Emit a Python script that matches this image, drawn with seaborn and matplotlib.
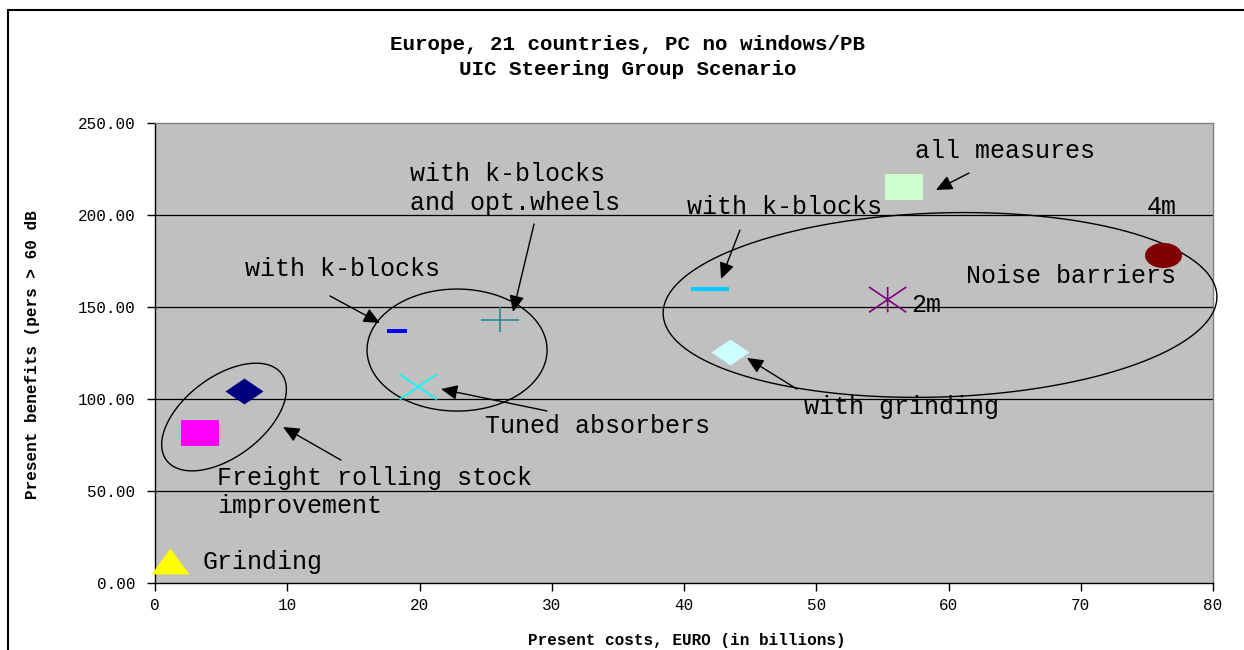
import numpy as np
import pandas as pd
import matplotlib
matplotlib.use("Agg")
import matplotlib.pyplot as plt
import seaborn as sns
from matplotlib.path import Path
from matplotlib.lines import Line2D

# ---------------- data ----------------
measures = ["Grinding", "Freight rolling stock improvement", "Freight + k-blocks",
            "Tuned absorbers with k-blocks", "Tuned absorbers",
            "Tuned absorbers with k-blocks and opt.wheels",
            "Noise barriers with k-blocks", "Noise barriers with grinding",
            "Noise barriers 2m", "All measures", "Noise barriers 4m"]
costs = [1.1, 3.4, 6.7, 18.3, 19.9, 26.1, 42.0, 43.5, 55.4, 56.6, 76.2]
benefits = [12.2, 81.6, 104.1, 137.2, 106.6, 143.2, 160.0, 125.3, 154.0, 215.3, 178.4]
colors = ["#FFFF00", "#FF00FF", "#000080", "#0000FF", "#00FFFF", "#2A8A8A",
          "#00CCFF", "#CCFFFF", "#800080", "#CCFFCC", "#800000"]
shapes = ["tri", "rect", "diamond", "dash_s", "x", "plus", "dash_l",
          "diamond", "star", "rect", "ellipse"]

x_ticks = [0, 10, 20, 30, 40, 50, 60, 70, 80]
y_ticks = [0, 50, 100, 150, 200, 250]

title = "Europe, 21 countries, PC no windows/PB\nUIC Steering Group Scenario"
x_label = "Present costs, EURO (in billions)"
y_label = "Present benefits (pers > 60 dB"

# annotation labels: text, left x, centre y (data units)
label_texts = ["Grinding", "Freight rolling stock\nimprovement", "with k-blocks",
               "with k-blocks\nand opt.wheels", "Tuned absorbers", "with k-blocks",
               "all measures", "4m", "Noise barriers", "2m", "with grinding"]
label_x = [3.63, 4.69, 6.81, 19.28, 24.95, 40.23, 57.47, 75.0, 61.32, 57.16, 49.07]
label_y = [11.4, 49.5, 170.7, 214.4, 85.3, 204.3, 234.8, 204.3, 166.8, 151.1, 95.7]

# arrows: tail -> head (data units)
arrow_tail_x = [14.06, 13.23, 28.66, 29.64, 44.23, 61.55, 48.54]
arrow_tail_y = [66.8, 156.0, 195.1, 93.5, 191.8, 222.8, 105.4]
arrow_head_x = [9.68, 17.01, 27.07, 21.63, 42.80, 59.05, 44.76]
arrow_head_y = [84.8, 141.3, 147.3, 105.4, 165.2, 213.6, 122.3]

# group ellipses: centre (data), semi-axes (pixels), angle (deg)
ell_cx = [5.22, 22.84, 59.36]
ell_cy = [90.2, 126.6, 151.1]
ell_a_px = [72, 90, 277]
ell_b_px = [40, 61, 92]
ell_ang = [37, 0, 1.9]

# ---------------- markers ----------------
def poly(verts):
    verts = list(verts) + [verts[0]]
    codes = [Path.MOVETO] + [Path.LINETO] * (len(verts) - 2) + [Path.CLOSEPOLY]
    return Path(verts, codes)

def segs(lines):
    v, c = [], []
    for (a, b) in lines:
        v += [a, b]
        c += [Path.MOVETO, Path.LINETO]
    return Path(v, c)

r = 0.68
uc = Path.unit_circle()
marker_paths = {
    "tri": poly([(-1, -r), (1, -r), (0, r)]),
    "rect": poly([(-1, -r), (1, -r), (1, r), (-1, r)]),
    "diamond": poly([(1, 0), (0, r), (-1, 0), (0, -r)]),
    "dash_s": poly([(-1, -0.2), (1, -0.2), (1, 0.2), (-1, 0.2)]),
    "dash_l": poly([(-1, -0.1), (1, -0.1), (1, 0.1), (-1, 0.1)]),
    "x": segs([((-1, -r), (1, r)), ((-1, r), (1, -r))]),
    "plus": segs([((-1, 0), (1, 0)), ((0, -r), (0, r))]),
    "star": segs([((-1, -r), (1, r)), ((-1, r), (1, -r)), ((0, -r), (0, r))]),
    "ellipse": Path(uc.vertices * np.array([1, r]), uc.codes),
}
marker_size = {"tri": 750, "rect": 710, "diamond": 750, "dash_s": 210,
               "dash_l": 740, "x": 720, "plus": 750, "star": 720, "ellipse": 710}
line_shapes = {"x", "plus", "star"}

# ---------------- figure ----------------
sns.set_style("white")
plt.rcParams["font.family"] = ["Liberation Mono", "DejaVu Sans"]
plt.rcParams["text.color"] = "black"
plt.rcParams["axes.labelcolor"] = "black"
plt.rcParams["xtick.color"] = "black"
plt.rcParams["ytick.color"] = "black"

fig = plt.figure(figsize=(12.44, 6.5), dpi=100)
ax = fig.add_axes([155 / 1244, 1 - 583 / 650, 1058 / 1244, 460 / 650])
ax.set_facecolor("#C0C0C0")
ax.set_xlim(0, 80)
ax.set_ylim(0, 250)

df = pd.DataFrame({"measure": measures, "cost": costs, "benefit": benefits,
                   "color": colors, "shape": shapes})

for _, row in df.iterrows():
    shp = row["shape"]
    sub = df[df["measure"] == row["measure"]]
    if shp in line_shapes:
        sns.scatterplot(data=sub, x="cost", y="benefit", ax=ax,
                        marker=marker_paths[shp], s=marker_size[shp],
                        color=row["color"], facecolor="none",
                        edgecolor=row["color"], linewidth=1.2,
                        clip_on=False, zorder=4, legend=False)
    else:
        sns.scatterplot(data=sub, x="cost", y="benefit", ax=ax,
                        marker=marker_paths[shp], s=marker_size[shp],
                        color=row["color"], linewidth=0,
                        clip_on=False, zorder=4, legend=False)

# ellipses (shape defined in pixels, centred in data units)
fig.canvas.draw()
bb = ax.get_window_extent()
px_x = bb.width / 80.0
px_y = bb.height / 250.0
t = np.linspace(0, 2 * np.pi, 721)
for cx, cy, a, b, ang in zip(ell_cx, ell_cy, ell_a_px, ell_b_px, ell_ang):
    th = np.radians(ang)
    dx = a * np.cos(t) * np.cos(th) - b * np.sin(t) * np.sin(th)
    dy = a * np.cos(t) * np.sin(th) + b * np.sin(t) * np.cos(th)
    ax.fill(cx + dx / px_x, cy + dy / px_y, facecolor="none", edgecolor="black",
            lw=1.0, zorder=3, clip_on=False)

# arrows
for tx, ty, hx, hy in zip(arrow_tail_x, arrow_tail_y, arrow_head_x, arrow_head_y):
    ax.annotate("", xy=(hx, hy), xytext=(tx, ty),
                arrowprops=dict(arrowstyle="-|>,head_length=0.55,head_width=0.25",
                                mutation_scale=18, color="black", lw=1.0,
                                shrinkA=0, shrinkB=0), zorder=5)

# labels
for txt, lx, ly in zip(label_texts, label_x, label_y):
    ax.text(lx, ly, txt, fontsize=18, ha="left", va="center", color="#000000",
            linespacing=1.25, clip_on=False, zorder=6)

# grid and spines
ax.set_xticks(x_ticks)
ax.set_yticks(y_ticks)
ax.set_yticklabels([f"{v:.2f}" for v in y_ticks])
ax.grid(False)
for v in y_ticks[1:-1]:
    ax.axhline(v, color="black", lw=0.9, zorder=1)
for side in ["left", "bottom"]:
    ax.spines[side].set_color("black")
    ax.spines[side].set_linewidth(1.0)
for side in ["top", "right"]:
    ax.spines[side].set_color("#808080")
    ax.spines[side].set_linewidth(1.0)
    ax.spines[side].set_visible(True)

ax.tick_params(axis="both", direction="out", length=6, width=1, color="black",
               labelcolor="black", labelsize=11.5, bottom=True, left=True)
ax.tick_params(axis="y", pad=8)
ax.tick_params(axis="x", pad=5)

ax.set_xlabel(x_label, fontsize=11.5, fontweight="bold", color="black")
ax.set_ylabel(y_label, fontsize=11.5, fontweight="bold", color="black")
ax.xaxis.set_label_coords(0.503, -0.109)
ax.yaxis.set_label_coords(-0.1087, 0.4957)

fig.text(628 / 1244, 1 - 57 / 650, title, ha="center", va="center",
         fontsize=15, fontweight="bold", linespacing=1.35, color="black")

# outer chart-area frame (cropped in reference)
fig.add_artist(Line2D([8 / 1244, 8 / 1244], [0, 1 - 10 / 650],
                      transform=fig.transFigure, color="black", lw=1.5))
fig.add_artist(Line2D([8 / 1244, 1], [1 - 10 / 650, 1 - 10 / 650],
                      transform=fig.transFigure, color="black", lw=1.5))

fig.savefig("out.png", dpi=100, facecolor="white")
